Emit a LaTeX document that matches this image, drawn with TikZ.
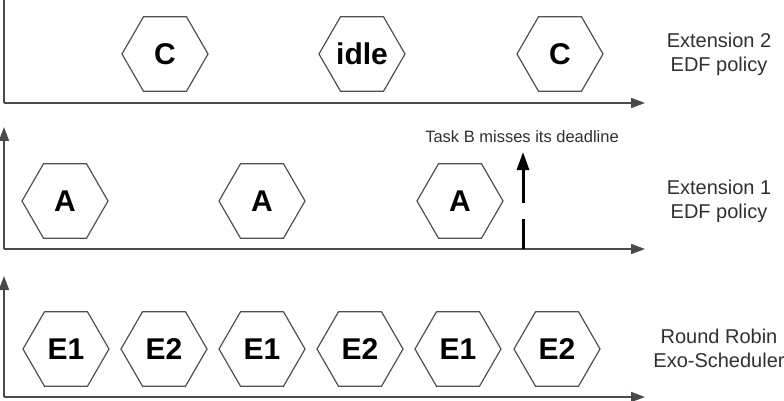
\documentclass[tikz,border=0pt]{standalone}
\usepackage{fontspec}
\setmainfont{Liberation Sans}
\usetikzlibrary{shapes.geometric,arrows.meta}
\definecolor{axisgray}{HTML}{4A4A4A}
\definecolor{hexgray}{HTML}{505050}
\definecolor{labgray}{HTML}{303030}
\tikzset{
  hexnode/.style={regular polygon, regular polygon sides=6, minimum size=86pt, inner sep=0pt,
    draw=hexgray, line width=1.2pt, font=\fontsize{30}{34}\selectfont\bfseries, text=black,
    text height=21.5pt, text depth=0pt},
  axisline/.style={draw=axisgray, line width=1.8pt, -{Triangle[length=14pt,width=10pt]}},
  axisplain/.style={draw=axisgray, line width=1.8pt},
  sidelabel/.style={align=center, font=\fontsize{20}{24}\selectfont, text=labgray, inner sep=0pt},
  deadline/.style={draw=black, line width=3pt},
  notelabel/.style={font=\fontsize{16.5}{20}\selectfont, text=labgray, inner sep=0pt}
}
\begin{document}
\begin{tikzpicture}[x=1pt,y=-1pt]
\useasboundingbox (0,0) rectangle (784,401);
% top panel
\coordinate (t0) at (4,0);
\coordinate (to) at (4,103);
\coordinate (tx) at (645,103);
\draw[axisplain] (t0) -- (to);
\draw[axisline] (to) -- (tx);
\node[hexnode] (c1) at (165,54) {C};
\node[hexnode] (idle) at (362,54) {idle};
\node[hexnode] (c2) at (560,54) {C};
\node[sidelabel] (l2) at (719,54) {Extension 2\\EDF policy};
% middle panel
\coordinate (my) at (4,127);
\coordinate (mo) at (4,249);
\coordinate (mx) at (645,249);
\draw[axisline] (mo) -- (my);
\draw[axisline] (mo) -- (mx);
\node[hexnode] (a1) at (65,201) {A};
\node[hexnode] (a2) at (262,201) {A};
\node[hexnode] (a3) at (460,201) {A};
\node[sidelabel] (l1) at (719,201) {Extension 1\\EDF policy};
\coordinate (d0) at (523,249);
\coordinate (d1) at (523,219);
\coordinate (d2) at (523,203);
\coordinate (d3) at (523,152);
\draw[deadline] (d0) -- (d1);
\draw[deadline,-{Triangle[length=18pt,width=12pt]}] (d2) -- (d3);
\node[notelabel] (miss) at (522,137) {Task B misses its deadline};
% bottom panel
\coordinate (by) at (4,276);
\coordinate (bo) at (4,397);
\coordinate (bx) at (645,397);
\draw[axisline] (bo) -- (by);
\draw[axisline] (bo) -- (bx);
\node[hexnode] (e1) at (66,349) {E1};
\node[hexnode] (e2) at (164,349) {E2};
\node[hexnode] (e3) at (262,349) {E1};
\node[hexnode] (e4) at (360,349) {E2};
\node[hexnode] (e5) at (458,349) {E1};
\node[hexnode] (e6) at (557,349) {E2};
\node[sidelabel] (l0) at (719,348) {Round Robin\\Exo-Scheduler};
\end{tikzpicture}
\end{document}
